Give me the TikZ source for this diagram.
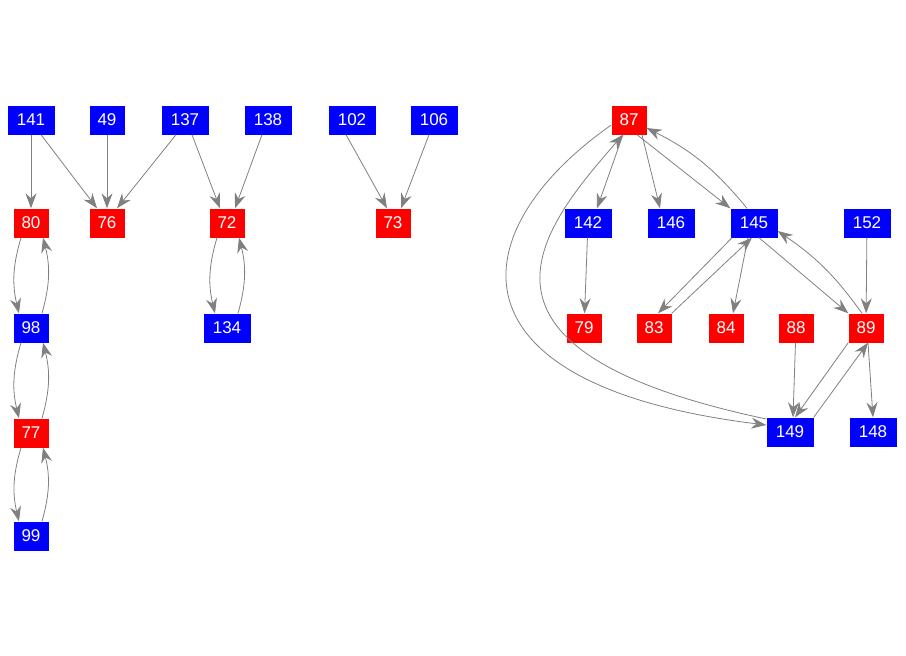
\documentclass[tikz,border=0pt]{standalone}
\usepackage{fontspec}
\setmainfont{Liberation Sans}
\usetikzlibrary{arrows.meta}
\definecolor{nred}{RGB}{255,0,0}
\definecolor{nblue}{RGB}{0,0,255}
\definecolor{egray}{RGB}{128,128,128}
\tikzset{
  vbase/.style={inner sep=0pt,minimum height=29pt,text=white,font=\fontsize{17}{17}\selectfont},
  rtwo/.style={vbase,fill=nred,minimum width=35pt},
  rthree/.style={vbase,fill=nred,minimum width=47pt},
  btwo/.style={vbase,fill=nblue,minimum width=35pt},
  bthree/.style={vbase,fill=nblue,minimum width=47pt},
  arr/.style={draw=egray,line width=0.8pt,-{Stealth[length=15pt,width=11pt,inset=5pt]}},
}
\begin{document}
\begin{tikzpicture}[x=1pt,y=-1pt]
\useasboundingbox (0,0) rectangle (906,656);
% left components
\node[bthree] (n141) at (31,120) {141};
\node[btwo]   (n49)  at (107,120) {49};
\node[bthree] (n137) at (185,120) {137};
\node[bthree] (n138) at (268,120) {138};
\node[bthree] (n102) at (352,120) {102};
\node[bthree] (n106) at (434,120) {106};
\node[rtwo] (n80) at (31,223) {80};
\node[rtwo] (n76) at (107,223) {76};
\node[rtwo] (n72) at (227,223) {72};
\node[rtwo] (n73) at (393,223) {73};
\node[btwo] (n98) at (31,328) {98};
\node[bthree] (n134) at (227,328) {134};
\node[rtwo] (n77) at (31,433) {77};
\node[btwo] (n99) at (31,536) {99};
% right component
\node[rtwo] (n87) at (629,120) {87};
\node[bthree] (n142) at (588,223) {142};
\node[bthree] (n146) at (671,223) {146};
\node[bthree] (n145) at (754,223) {145};
\node[bthree] (n152) at (867,223) {152};
\node[rtwo] (n79) at (584,328) {79};
\node[rtwo] (n83) at (654,328) {83};
\node[rtwo] (n84) at (726,328) {84};
\node[rtwo] (n88) at (796,328) {88};
\node[rtwo] (n89) at (866,328) {89};
\node[bthree] (n149) at (790,432) {149};
\node[bthree] (n148) at (873,432) {148};
% left edges
\draw[arr] (n141) -- (n80);
\draw[arr] ([xshift=10pt]n141.south) -- ([xshift=-10pt]n76.north);
\draw[arr] (n49) -- (n76);
\draw[arr] ([xshift=-9pt]n137.south) -- ([xshift=10pt]n76.north);
\draw[arr] ([xshift=7pt]n137.south) -- ([xshift=-7pt]n72.north);
\draw[arr] ([xshift=-6pt]n138.south) -- ([xshift=8pt]n72.north);
\draw[arr] ([xshift=-6pt]n102.south) -- ([xshift=-6pt]n73.north);
\draw[arr] ([xshift=-5pt]n106.south) -- ([xshift=8pt]n73.north);
\draw[arr] ([xshift=-10pt]n80.south) to[bend right=15] ([xshift=-12pt]n98.north);
\draw[arr] ([xshift=11pt]n98.north) to[bend right=15] ([xshift=12pt]n80.south);
\draw[arr] ([xshift=-10pt]n98.south) to[bend right=15] ([xshift=-12pt]n77.north);
\draw[arr] ([xshift=11pt]n77.north) to[bend right=15] ([xshift=12pt]n98.south);
\draw[arr] ([xshift=-10pt]n77.south) to[bend right=15] ([xshift=-12pt]n99.north);
\draw[arr] ([xshift=11pt]n99.north) to[bend right=15] ([xshift=12pt]n77.south);
\draw[arr] ([xshift=-10pt]n72.south) to[bend right=15] ([xshift=-12pt]n134.north);
\draw[arr] ([xshift=11pt]n134.north) to[bend right=15] ([xshift=12pt]n72.south);
% right edges
\draw[arr] ([xshift=-6pt]n87.south) -- ([xshift=9pt]n142.north);
\draw[arr] ([xshift=13pt]n87.south) -- ([xshift=-11pt]n146.north);
\draw[arr] ([xshift=8pt]n87.south) -- (n145.north west);
\draw[arr] ([xshift=-7pt]n145.north) to[bend right=12] ([yshift=-8pt]n87.east);
\draw[arr] (n142) -- (n79);
\draw[arr] ([xshift=-22pt]n145.south) -- ([xshift=4pt]n83.north);
\draw[arr] (n83.north east) -- ([xshift=-2pt]n145.south);
\draw[arr] ([xshift=-6pt]n145.south) -- ([xshift=7pt]n84.north);
\draw[arr] ([xshift=5pt]n145.south) -- (n89.north west);
\draw[arr] ([xshift=-4pt]n89.north) to[bend right=10] ([yshift=-8pt]n145.east);
\draw[arr] (n152) -- (n89);
\draw[arr] (n88) -- ([xshift=3pt]n149.north);
\draw[arr] (n89.south west) -- ([xshift=5pt]n149.north);
\draw[arr] (n149.north east) -- ([xshift=2pt]n89.south);
\draw[arr] ([xshift=2pt]n89.south) -- (n148.north);
\draw[arr] ([yshift=-5pt]n87.west) .. controls +(-150,105) and +(-326,-40) .. ([yshift=7pt]n149.west);
\draw[arr] ([yshift=13pt]n149.west) .. controls +(-326,-69) and +(-83,95) .. ([xshift=-6pt]n87.south);
\end{tikzpicture}
\end{document}
